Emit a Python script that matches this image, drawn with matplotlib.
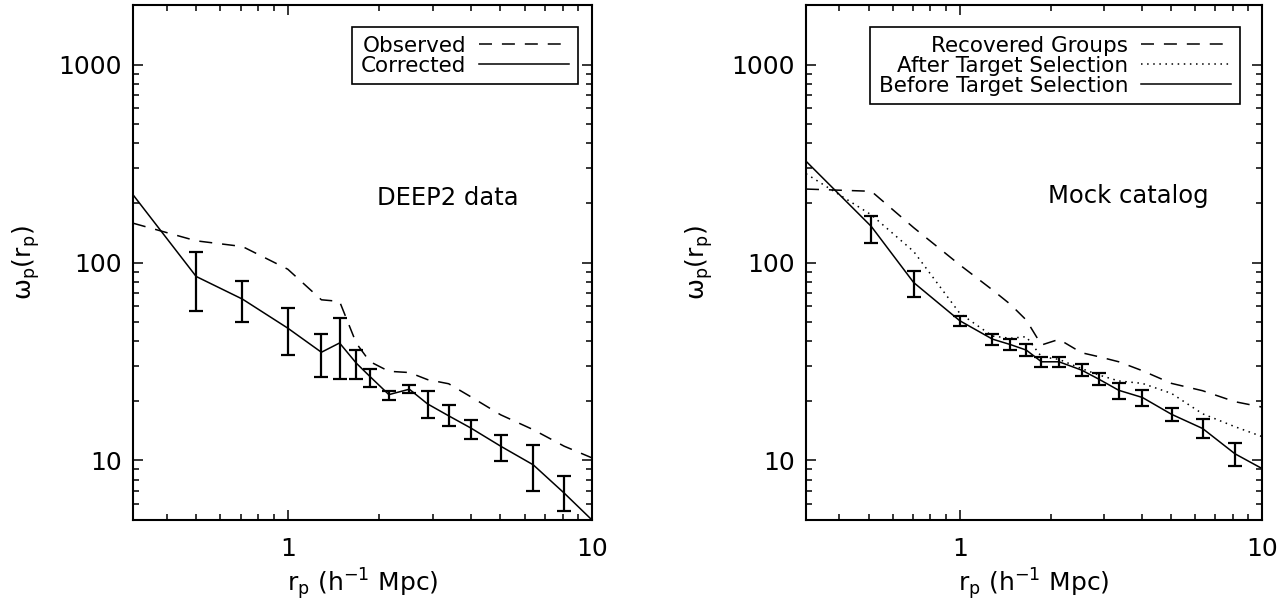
import matplotlib
matplotlib.use('Agg')
import matplotlib.pyplot as plt
from matplotlib.ticker import LogLocator, FuncFormatter, NullFormatter
import numpy as np

plt.rcParams['font.family'] = ['DejaVu Sans']
plt.rcParams['mathtext.fontset'] = 'custom'
plt.rcParams['mathtext.rm'] = 'DejaVu Sans'
plt.rcParams['font.size'] = 18

# ---- left panel: DEEP2 data ----
rp_left = [0.31, 0.50, 0.71, 1.00, 1.29, 1.48, 1.68, 1.86, 2.15, 2.51, 2.88, 3.38, 3.99, 5.01, 6.41, 8.10, 10.0]
wp_corrected = [220, 85, 65.3, 46.6, 35.2, 39.2, 31.0, 26.6, 21.5, 22.9, 19.3, 16.8, 14.6, 11.8, 9.5, 6.84, 5.0]
corr_hi = [113.6, 81, 59, 43.6, 52.4, 36.2, 29.0, 22.3, 24.1, 22.3, 19.0, 16.05, 13.5, 11.9, 8.3]
corr_lo = [57, 49.8, 34.2, 26.5, 25.8, 25.8, 23.5, 20.1, 21.9, 16.4, 14.9, 12.8, 9.9, 6.97, 5.52]
wp_observed = [158, 128.7, 120.4, 92.5, 64.8, 63.6, 39.1, 31.6, 28.2, 27.8, 25.6, 24.4, 21.0, 17.0, 14.3, 11.8, 10.3]

# ---- right panel: mock catalog ----
rp_right = [0.31, 0.51, 0.704, 1.0, 1.283, 1.47, 1.66, 1.864, 2.13, 2.53, 2.89, 3.36, 4.02, 5.02, 6.36, 8.14, 10.0]
wp_before = [325, 152, 79.2, 50.8, 41.0, 38.5, 36.1, 31.5, 31.5, 28.6, 25.7, 22.6, 20.8, 17.1, 14.5, 10.8, 9.1]
before_hi = [171, 91, 53.8, 43.5, 40.9, 38.7, 33.4, 33.2, 30.7, 27.5, 24.5, 22.6, 18.3, 16.1, 12.2]
before_lo = [126, 67.3, 47.7, 38.5, 36.1, 33.7, 29.5, 29.6, 26.7, 24.0, 20.5, 18.8, 15.8, 13.0, 9.4]
wp_after = [281, 174, 113.7, 55.4, 42.5, 41.4, 42.2, 33.4, 32.4, 29.1, 27.0, 25.2, 24.5, 21.8, 17.2, 14.8, 13.2]
wp_recovered = [235, 229, 150, 97.3, 72.7, 61.5, 51.2, 38.3, 40.9, 35.0, 33.4, 31.5, 28.4, 24.5, 22.5, 19.8, 18.6]

W, H = 1281, 606
fig = plt.figure(figsize=(W / 100, H / 100), dpi=100)
ax1 = fig.add_axes([133 / W, 86 / H, 459 / W, 515 / H])
ax2 = fig.add_axes([806 / W, 86 / H, 456 / W, 515 / H])

dash = (0, (8.5, 6.5))
dots = (0, (1, 3))


def style_axis(ax):
    ax.set_xscale('log')
    ax.set_yscale('log')
    ax.set_xlim(0.31, 10)
    ax.set_ylim(5, 2000)
    fmt = FuncFormatter(lambda v, p: f'{v:g}')
    ax.xaxis.set_major_formatter(fmt)
    ax.yaxis.set_major_formatter(fmt)
    ax.xaxis.set_minor_locator(LogLocator(base=10, subs=np.arange(2, 10)))
    ax.yaxis.set_minor_locator(LogLocator(base=10, subs=np.arange(2, 10)))
    ax.xaxis.set_minor_formatter(NullFormatter())
    ax.yaxis.set_minor_formatter(NullFormatter())
    ax.tick_params(which='both', direction='in', top=True, right=True, width=1.1)
    ax.tick_params(which='major', length=7)
    ax.tick_params(which='minor', length=4)
    ax.tick_params(axis='x', pad=12)
    ax.tick_params(axis='y', pad=8)
    for s in ax.spines.values():
        s.set_linewidth(1.5)
    ax.set_xlabel(r'r$_{\mathrm{p}}$ (h$^{-1}$ Mpc)', labelpad=4)
    ax.set_ylabel(r'ω$_{\mathrm{p}}$(r$_{\mathrm{p}}$)', labelpad=12)


def draw_errors(ax, x, y, hi, lo):
    xi = np.array(x[1:-1])
    yi = np.array(y[1:-1])
    yerr = [yi - np.array(lo), np.array(hi) - yi]
    ax.errorbar(xi, yi, yerr=yerr, fmt='none', ecolor='black',
                elinewidth=1.6, capsize=4.7, capthick=1.6)


def add_legend(ax, right_px):
    leg = ax.legend(loc='upper right', bbox_to_anchor=(right_px / W, 1 - 27 / H),
                    bbox_transform=fig.transFigure, borderaxespad=0, markerfirst=False,
                    fancybox=False, edgecolor='black', framealpha=1, fontsize=15.5,
                    handlelength=4.2, labelspacing=0.0, borderpad=0.4,
                    handletextpad=0.6)
    leg.get_frame().set_linewidth(1.2)


# left panel
ax1.plot(rp_left, wp_observed, color='black', lw=1.1, ls=dash, label='Observed')
ax1.plot(rp_left, wp_corrected, color='black', lw=1.1, label='Corrected')
draw_errors(ax1, rp_left, wp_corrected, corr_hi, corr_lo)
style_axis(ax1)
ax1.text(0.532, 0.612, 'DEEP2 data', transform=ax1.transAxes, fontsize=17.5,
         ha='left', va='baseline')
add_legend(ax1, 578)

# right panel
ax2.plot(rp_right, wp_recovered, color='black', lw=1.1, ls=dash, label='Recovered Groups')
ax2.plot(rp_right, wp_after, color='black', lw=1.1, ls=dots, label='After Target Selection')
ax2.plot(rp_right, wp_before, color='black', lw=1.1, label='Before Target Selection')
draw_errors(ax2, rp_right, wp_before, before_hi, before_lo)
style_axis(ax2)
ax2.text(0.53, 0.6155, 'Mock catalog', transform=ax2.transAxes, fontsize=17.5,
         ha='left', va='baseline')
add_legend(ax2, 1240)

fig.savefig('out.png', dpi=100, facecolor='white')
